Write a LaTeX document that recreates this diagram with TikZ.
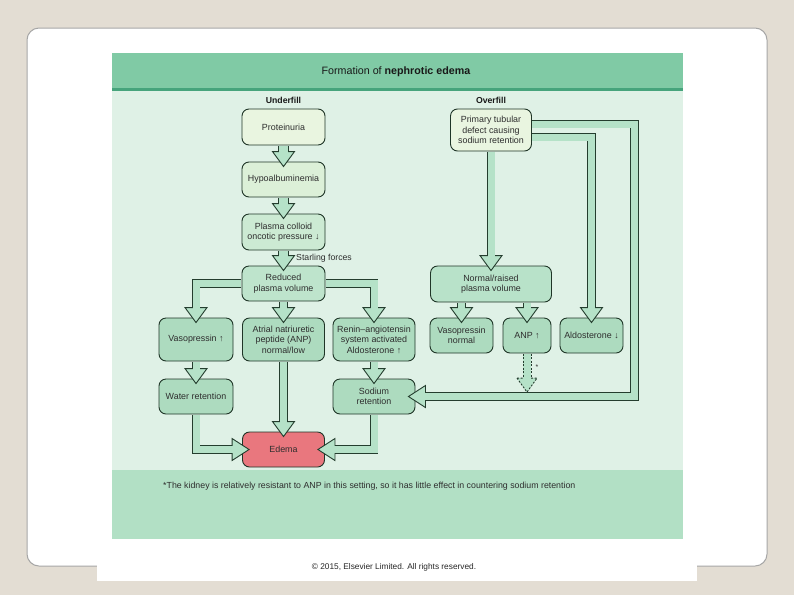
\documentclass[tikz,border=0pt]{standalone}
\usepackage{fontspec}
\setmainfont{Liberation Sans}
\usetikzlibrary{calc}
\definecolor{pagebg}{HTML}{E3DDD3}
\definecolor{cardln}{HTML}{A6A6A6}
\definecolor{hdrc}{HTML}{80CAA5}
\definecolor{divc}{HTML}{46A47C}
\definecolor{bodyc}{HTML}{DFF1E6}
\definecolor{notec}{HTML}{B2E0C5}
\definecolor{boxln}{HTML}{1F3527}
\definecolor{arrln}{HTML}{243D2E}
\definecolor{arrfc}{HTML}{B5E2C8}
\definecolor{txtc}{HTML}{2E2E2E}
\definecolor{fa}{HTML}{E9F5E0}
\definecolor{fb}{HTML}{DCF0D8}
\definecolor{fc}{HTML}{CCEAD3}
\definecolor{fd}{HTML}{BEE4CC}
\definecolor{fe}{HTML}{ADDBBF}
\definecolor{ff}{HTML}{B8E2C9}
\definecolor{edc}{HTML}{E9777E}
\tikzset{
 bx/.style={draw=boxln, line width=0.9pt, rounded corners=7pt, align=center, inner sep=1pt, text=txtc, font=\fontsize{8.9}{10.6}\selectfont},
 darkA/.style={draw=arrln, line width=10.8pt, line join=miter},
 fillA/.style={draw=arrfc, line width=9pt, line join=miter},
 darkB/.style={draw=arrln, line width=8.8pt, line join=miter},
 fillB/.style={draw=arrfc, line width=7pt, line join=miter},
 ahd/.style={fill=arrfc, draw=arrln, line width=0.9pt, line join=miter},
}
\newcommand\blockdown[3][B]{%
 \draw[dark#1] #2;
 \filldraw[ahd] ($(#3.north)+(-11,-10)$) -- ($(#3.north)+(11,-10)$) -- ($(#3.north)+(0,5)$) -- cycle;
 \draw[fill#1] #2;}
\newcommand\blockright[3][B]{%
 \draw[dark#1] #2;
 \filldraw[ahd] ($(#3.west)+(-10,-11)$) -- ($(#3.west)+(-10,11)$) -- ($(#3.west)+(7,0)$) -- cycle;
 \draw[fill#1] #2;}
\newcommand\blockleft[3][B]{%
 \draw[dark#1] #2;
 \filldraw[ahd] ($(#3.east)+(10,-11)$) -- ($(#3.east)+(10,11)$) -- ($(#3.east)+(-7,0)$) -- cycle;
 \draw[fill#1] #2;}
\begin{document}
\begin{tikzpicture}[x=1pt,y=-1pt]
\useasboundingbox (0,0) rectangle (794,595);
\fill[pagebg] (0,0) rectangle (794,595);
\draw[cardln, line width=1pt, fill=white, rounded corners=12pt] (27,28) rectangle (767,566);
\fill[white] (97,539) rectangle (697,581);
\fill[hdrc] (112,53) rectangle (683,88);
\fill[divc] (112,88) rectangle (683,91);
\fill[bodyc] (112,91) rectangle (683,470);
\fill[notec] (112,470) rectangle (683,539);

\node[font=\fontsize{10.7}{12}\selectfont, text=black!90] (title) at (396,72) {Formation of \textbf{nephrotic edema}};
\node[font=\bfseries\fontsize{8.7}{10}\selectfont, text=black!90] (uf) at (283.5,100) {Underfill};
\node[font=\bfseries\fontsize{8.7}{10}\selectfont, text=black!90] (of) at (491,100) {Overfill};

% underfill
\node[bx, fill=fa, minimum width=83pt, minimum height=36pt] (prot) at (283.5,127) {Proteinuria};
\node[bx, fill=fb, minimum width=83pt, minimum height=35pt] (hypo) at (283.5,179.5) {Hypoalbuminemia};
\node[bx, fill=fc, minimum width=83pt, minimum height=36pt] (plas) at (283.5,232) {Plasma colloid\\oncotic pressure ↓};
\node[bx, fill=fd, minimum width=83pt, minimum height=35pt] (red) at (283.5,283.5) {Reduced\\plasma volume};
\node[bx, fill=fe, minimum width=74pt, minimum height=43pt] (vaso) at (196,339.5) {Vasopressin ↑};
\node[bx, fill=fe, minimum width=82pt, minimum height=43pt] (anp) at (283.5,339.5) {Atrial natriuretic\\peptide (ANP)\\normal/low};
\node[bx, fill=fe, minimum width=82pt, minimum height=43pt] (ren) at (374,339.5) {Renin–angiotensin\\system activated\\Aldosterone ↑};
\node[bx, fill=fe, minimum width=74pt, minimum height=35pt] (water) at (196,396.5) {Water retention};
\node[bx, fill=fe, minimum width=82pt, minimum height=35pt] (sod) at (374,396.5) {Sodium\\retention};
\node[bx, fill=edc, minimum width=82pt, minimum height=35pt] (edema) at (283.5,449.5) {Edema};
\node[text=txtc, font=\fontsize{8.7}{10}\selectfont, anchor=west, inner sep=0pt] (starl) at (296,258) {Starling forces};

% overfill
\node[bx, fill=fa, minimum width=81pt, minimum height=42pt] (prim) at (491,130) {Primary tubular\\defect causing\\sodium retention};
\node[bx, fill=ff, minimum width=121pt, minimum height=36pt] (norm) at (491,284) {Normal/raised\\plasma volume};
\node[bx, fill=fe, minimum width=63pt, minimum height=35pt] (vasn) at (461.5,335.5) {Vasopressin\\normal};
\node[bx, fill=fe, minimum width=48pt, minimum height=35pt] (anpu) at (527,335.5) {ANP ↑};
\node[bx, fill=fe, minimum width=63pt, minimum height=35pt] (ald) at (591.5,335.5) {Aldosterone ↓};

% arrows underfill
\blockdown[A]{($(prot.south)+(0,0.5)$) -- ($(hypo.north)+(0,-9)$)}{hypo}
\blockdown[A]{($(hypo.south)+(0,0.5)$) -- ($(plas.north)+(0,-9)$)}{plas}
\blockdown[A]{($(plas.south)+(0,0.5)$) -- ($(red.north)+(0,-9)$)}{red}
\blockdown{($(red.west)+(-0.5,0)$) -| ($(vaso.north)+(0,-9)$)}{vaso}
\blockdown{($(red.south)+(0,0.5)$) -- ($(anp.north)+(0,-9)$)}{anp}
\blockdown{($(red.east)+(0.5,0)$) -| ($(ren.north)+(0,-9)$)}{ren}
\blockdown{($(vaso.south)+(0,0.5)$) -- ($(water.north)+(0,-9)$)}{water}
\blockdown{($(ren.south)+(0,0.5)$) -- ($(sod.north)+(0,-9)$)}{sod}
\blockdown{($(anp.south)+(0,0.5)$) -- ($(edema.north)+(0,-9)$)}{edema}
\blockright{($(water.south)+(0,0.5)$) |- ($(edema.west)+(-9,0)$)}{edema}
\blockleft{($(sod.south)+(0,0.5)$) |- ($(edema.east)+(9,0)$)}{edema}

% arrows overfill
\blockdown{($(prim.south)+(0,0.5)$) -- ($(norm.north)+(0,-9)$)}{norm}
\blockdown{($(norm.south -| vasn.north)+(0,0.5)$) -- ($(vasn.north)+(0,-9)$)}{vasn}
\blockdown{($(norm.south -| anpu.north)+(0,0.5)$) -- ($(anpu.north)+(0,-9)$)}{anpu}
\blockdown{($(prim.east)+(0.5,7)$) -| ($(ald.north)+(0,-9)$)}{ald}
\blockleft{($(prim.east)+(0.5,-6)$) -| ($(sod.east)+(219,0)$) -- ($(sod.east)+(9,0)$)}{sod}

% dashed arrow from ANP up
\coordinate (dtip) at ($(anpu.south |- sod.east)+(0,-4.4)$);
\fill[arrfc] ($(anpu.south)+(-4,0.5)$) rectangle ($(dtip)+(4,-14)$);
\draw[arrln, line width=0.9pt, dash pattern=on 2pt off 1.5pt] ($(anpu.south)+(-4,0.5)$) -- ($(dtip)+(-4,-14)$);
\draw[arrln, line width=0.9pt, dash pattern=on 2pt off 1.5pt] ($(anpu.south)+(4,0.5)$) -- ($(dtip)+(4,-14)$);
\filldraw[ahd, dash pattern=on 2pt off 1.5pt] ($(dtip)+(-10,-14)$) -- ($(dtip)+(10,-14)$) -- (dtip) -- cycle;
\fill[arrfc] ($(dtip)+(-3.5,-15.5)$) rectangle ($(dtip)+(3.5,-13)$);
\node[font=\fontsize{7}{8}\selectfont, text=txtc] (ast) at (537,367) {*};

% note and copyright
\node[anchor=west, font=\fontsize{8.8}{10}\selectfont, text=txtc, inner sep=0pt] (note) at (163,486) {*The kidney is relatively resistant to ANP in this setting, so it has little effect in countering sodium retention};
\node[font=\fontsize{8.3}{9}\selectfont, text=black!85] (copy) at (394,567) {© 2015, Elsevier Limited. All rights reserved.};
\end{tikzpicture}
\end{document}
